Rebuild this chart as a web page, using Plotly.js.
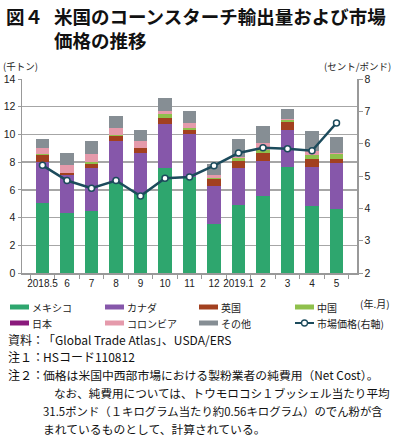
<!DOCTYPE html>
<html><head><meta charset="utf-8">
<script src="https://cdn.plot.ly/plotly-3.0.1.min.js"></script>
<style>html,body{margin:0;padding:0;background:#fff}#c{width:393px;height:437px}</style>
</head><body><div id="c"></div>
<script>
const months = ["2018.5","6","7","8","9","10","11","12","2019.1","2","3","4","5"];
const mexico   = [5.05,4.3,4.5,6.5,5.8,7.55,6.9,3.55,4.9,5.55,7.65,4.8,4.65];
const canada   = [2.95,2.75,3.1,3.0,2.85,3.2,3.15,2.75,2.7,2.5,2.65,2.85,3.3];
const uk       = [0.55,0.15,0.3,0.4,0.35,0.45,0.25,0.5,0.45,0.6,0.6,0.6,0.3];
const china    = [0.05,0.0,0.1,0.05,0.0,0.3,0.2,0.05,0.25,0.25,0.15,0.3,0.35];
const japan    = [0,0,0,0,0,0,0,0,0,0,0,0,0];
const colombia = [0.4,0.6,0.6,0.55,0.5,0.2,0.35,0.25,0.1,0.45,0.05,0.25,0.05];
const others   = [0.65,0.85,0.95,0.8,0.8,0.9,0.85,0.8,1.3,1.25,0.75,1.45,1.2];
const price    = [5.33,4.86,4.62,4.86,4.38,4.93,4.97,5.32,5.71,5.87,5.84,5.78,6.64];

const seriesNames = ["メキシコ","カナダ","英国","中国","日本","コロンビア","その他"];
const lineName = "市場価格(右軸)";
const seriesData = [mexico,canada,uk,china,japan,colombia,others];
const colors = ["#2ea66e","#8657aa","#a2401f","#8fc04c","#8a1a7c","#e59aab","#868e94"];
const lineColor = "#1c4b5c";

const titleMark = "図４";
const titleLines = ["米国のコーンスターチ輸出量および市場","価格の推移"];
const leftUnit = "(千トン)";
const rightUnit = "(セント/ポンド)";
const xUnit = "(年.月)";
const notes = [
  ["資料：","「Global Trade Atlas」、USDA/ERS"],
  ["注１：","HSコード110812"],
  ["注２：","価格は米国中西部市場における製粉業者の純費用（Net Cost）。"],
  ["","なお、純費用については、トウモロコシ１ブッシェル当たり平均"],
  ["","31.5ポンド（１キログラム当たり約0.56キログラム）のでん粉が含"],
  ["","まれているものとして、計算されている。"]
];

const W=393,H=437,L=22,R=36,T=79,B=164;
const pw=W-L-R, ph=H-T-B;
const px=x=>(x-L)/pw, py=y=>1-(y-T)/ph;
const JP='"Noto Sans CJK JP", sans-serif';
const NUM='"Liberation Sans", Arial, sans-serif';

const traces = seriesNames.map((n,i)=>({
  type:'bar', name:n, x:months, y:seriesData[i],
  marker:{color:colors[i]}, showlegend:false, hoverinfo:'skip'
}));
traces.push({
  type:'scatter', mode:'lines+markers', name:lineName, x:months, y:price, yaxis:'y2',
  line:{color:lineColor,width:2.5},
  marker:{color:'#ffffff',size:6,line:{color:lineColor,width:1.5}},
  showlegend:false, hoverinfo:'skip'
});

const ann=[], shapes=[];
ann.push({text:'<b>'+titleMark+'</b>',x:px(4),y:py(16),xanchor:'left',yanchor:'middle',font:{family:JP,size:18.5,color:'#111'}});
ann.push({text:'<b>'+titleLines.join('<br>')+'</b>',x:px(52),y:py(28),xanchor:'left',yanchor:'middle',align:'left',font:{family:JP,size:18.5,color:'#111'}});
ann.push({text:leftUnit,x:px(1),y:py(66),xanchor:'left',yanchor:'middle',font:{family:JP,size:9.5,color:'#222'}});
ann.push({text:rightUnit,x:px(393),y:py(66),xanchor:'right',yanchor:'middle',font:{family:JP,size:9.5,color:'#222'}});
ann.push({text:xUnit,x:px(392),y:py(303),xanchor:'right',yanchor:'middle',font:{family:JP,size:10,color:'#222'}});

// legend
const items = seriesNames.map((n,i)=>({name:n,color:colors[i],kind:'bar'}));
items.push({name:lineName,color:lineColor,kind:'line'});
const colX=[10,105,199,295], rowY=[307,323];
items.forEach((it,k)=>{
  const cx=colX[k%4], cy=rowY[Math.floor(k/4)];
  if(it.kind==='bar'){
    shapes.push({type:'rect',xref:'paper',yref:'paper',x0:px(cx),x1:px(cx+19),y0:py(cy-2.5),y1:py(cy+2.5),fillcolor:it.color,line:{width:0}});
  } else {
    shapes.push({type:'line',xref:'paper',yref:'paper',x0:px(cx),x1:px(cx+19),y0:py(cy),y1:py(cy),line:{color:it.color,width:2}});
    shapes.push({type:'circle',xref:'paper',yref:'paper',x0:px(cx+6.5),x1:px(cx+12.5),y0:py(cy-3),y1:py(cy+3),fillcolor:'#fff',line:{color:it.color,width:1.3}});
  }
  ann.push({text:it.name,x:px(cx+20),y:py(cy),xanchor:'left',yanchor:'middle',font:{family:JP,size:10,color:'#222'}});
});

// notes
const noteY=[339,356,374,393,411,428];
const noteX=[41,41,41,52,41,41];
const noteSize=[12,12,11.8,11.6,11.4,11.8];
notes.forEach((nt,i)=>{
  if(nt[0]) ann.push({text:nt[0],x:px(6),y:py(noteY[i]),xanchor:'left',yanchor:'middle',font:{family:JP,size:12,color:'#111'}});
  ann.push({text:nt[1],x:px(noteX[i]),y:py(noteY[i]),xanchor:'left',yanchor:'middle',font:{family:JP,size:noteSize[i],color:'#111'}});
});
ann.forEach(a=>{a.xref='paper';a.yref='paper';a.showarrow=false;});

const layout={
  width:W,height:H,margin:{l:L,r:R,t:T,b:B,pad:0},
  paper_bgcolor:'#fff',plot_bgcolor:'#fff',
  barmode:'stack',bargap:0.45,showlegend:false,
  xaxis:{type:'category',tickson:'boundaries',ticks:'outside',ticklen:4,tickcolor:'#999',
    showline:true,linecolor:'#999',linewidth:1.5,showgrid:false,tickangle:0,automargin:false,
    tickfont:{family:NUM,size:10,color:'#222'},fixedrange:true},
  yaxis:{range:[0,14],dtick:2,showgrid:true,gridcolor:'#a6a6a6',gridwidth:1.5,
    showline:true,linecolor:'#999',linewidth:1.5,ticks:'outside',ticklen:3,tickcolor:'#999',
    tickfont:{family:NUM,size:10.5,color:'#222'},zeroline:false,fixedrange:true},
  yaxis2:{range:[2,8],dtick:1,overlaying:'y',side:'right',showgrid:false,
    showline:true,linecolor:'#999',linewidth:1.5,ticks:'outside',ticklen:4,tickcolor:'#999',
    tickfont:{family:NUM,size:10.5,color:'#222'},zeroline:false,fixedrange:true},
  annotations:ann,shapes:shapes,
  font:{family:JP}
};
Plotly.newPlot('c',traces,layout,{staticPlot:true,displayModeBar:false});
</script></body></html>
